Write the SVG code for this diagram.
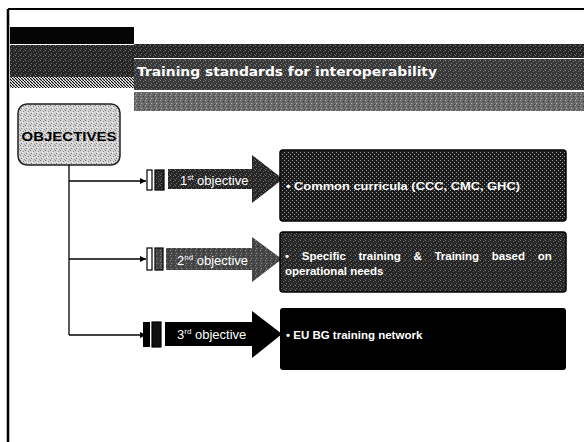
<svg xmlns="http://www.w3.org/2000/svg" width="584" height="442" viewBox="0 0 584 442">
<style>
.title{font-family:"DejaVu Sans",Verdana,sans-serif;font-weight:bold;font-size:13px;fill:#fff}
.obj{font-family:"Liberation Sans",Arial,sans-serif;font-weight:bold;font-size:13px;fill:#000}
.arr{font-family:"Liberation Sans",Arial,sans-serif;font-size:13px;fill:#fff}
.box{font-family:"Liberation Sans",Arial,sans-serif;font-weight:bold;font-size:11.5px;fill:#fff}
.conn{stroke:#000;stroke-width:1.3;fill:none}
.edge{stroke:#000;stroke-width:1.2}
</style>
<defs>
<pattern id="pChk" width="4" height="4" patternUnits="userSpaceOnUse"><rect width="4" height="4" fill="#1c1c1c"/><rect x="0" y="0" width="1" height="1" fill="#999"/><rect x="2" y="2" width="1" height="1" fill="#999"/></pattern>
<pattern id="pDark" width="5" height="5" patternUnits="userSpaceOnUse"><rect width="5" height="5" fill="#262626"/><rect x="0" y="0" width="1" height="1" fill="#777"/><rect x="3" y="1" width="1" height="1" fill="#666"/><rect x="1" y="3" width="1" height="1" fill="#707070"/><rect x="4" y="4" width="1" height="1" fill="#5a5a5a"/></pattern>
<pattern id="pTitle" width="5" height="5" patternUnits="userSpaceOnUse"><rect width="5" height="5" fill="#383838"/><rect x="0" y="0" width="1" height="1" fill="#888"/><rect x="3" y="1" width="1" height="1" fill="#777"/><rect x="1" y="3" width="1" height="1" fill="#808080"/><rect x="4" y="4" width="1" height="1" fill="#6a6a6a"/></pattern>
<pattern id="pGray" width="5" height="5" patternUnits="userSpaceOnUse"><rect width="5" height="5" fill="#6a6a6a"/><rect x="0" y="0" width="1" height="1" fill="#aaa"/><rect x="3" y="1" width="1" height="1" fill="#3a3a3a"/><rect x="1" y="3" width="1" height="1" fill="#b0b0b0"/><rect x="4" y="4" width="1" height="1" fill="#444"/></pattern>
<pattern id="pArrow2" width="5" height="5" patternUnits="userSpaceOnUse"><rect width="5" height="5" fill="#4a4a4a"/><rect x="0" y="0" width="1" height="1" fill="#888"/><rect x="3" y="1" width="1" height="1" fill="#2a2a2a"/><rect x="1" y="3" width="1" height="1" fill="#8a8a8a"/><rect x="4" y="4" width="1" height="1" fill="#303030"/></pattern>
<pattern id="pLight" width="5" height="5" patternUnits="userSpaceOnUse"><rect width="5" height="5" fill="#d4d4d4"/><rect x="0" y="0" width="1" height="1" fill="#777"/><rect x="3" y="1" width="1" height="1" fill="#888"/><rect x="1" y="3" width="1" height="1" fill="#7a7a7a"/><rect x="4" y="4" width="1" height="1" fill="#999"/><rect x="2" y="2" width="1" height="1" fill="#fff"/></pattern>
<pattern id="pHatch" width="3" height="3" patternUnits="userSpaceOnUse"><rect width="3" height="3" fill="#fff"/><path d="M0 0 L3 3" stroke="#000" stroke-width="1.2"/></pattern>
<marker id="ah" viewBox="0 0 10 10" refX="10" refY="5" markerWidth="6" markerHeight="6" orient="auto" markerUnits="userSpaceOnUse"><path d="M0 0 L10 5 L0 10 z" fill="#000"/></marker>
</defs>
<rect width="584" height="442" fill="#fff"/>
<g id="frame">
<line x1="8" y1="9" x2="584" y2="9" stroke="#000" stroke-width="2"/>
<line x1="8" y1="9" x2="8" y2="442" stroke="#000" stroke-width="2.5"/>
</g>
<g id="header">
<rect x="10" y="27" width="124" height="17" fill="#050505"/>
<rect x="10" y="45" width="124" height="32" fill="url(#pDark)"/>
<rect x="10" y="77" width="124" height="11" fill="url(#pHatch)"/>
<rect x="134" y="44" width="450" height="14" fill="url(#pDark)"/>
<rect x="134" y="59" width="450" height="31" fill="url(#pTitle)"/>
<rect x="134" y="92" width="450" height="19" fill="url(#pGray)"/>
<text class="title" x="137" y="76" textLength="300" lengthAdjust="spacingAndGlyphs">Training standards for interoperability</text>
</g>
<g id="objectives">
<rect x="18" y="104" width="102" height="61" rx="9" fill="url(#pLight)" stroke="#222" stroke-width="1.5"/>
<text class="obj" x="69" y="141" text-anchor="middle" textLength="95" lengthAdjust="spacingAndGlyphs">OBJECTIVES</text>
</g>
<g id="connectors">
<line class="conn" x1="69" y1="165" x2="69" y2="335"/>
<line class="conn" x1="69" y1="181" x2="146" y2="181" marker-end="url(#ah)"/>
<line class="conn" x1="69" y1="259" x2="146" y2="259" marker-end="url(#ah)"/>
<line class="conn" x1="69" y1="335" x2="146" y2="335" marker-end="url(#ah)"/>
</g>
<g id="arrow1">
<rect x="147" y="170" width="5" height="20" fill="#fff" class="edge"/>
<rect x="155" y="170" width="9" height="20" fill="url(#pDark)" class="edge"/>
<path d="M168 169 H252 V155 L283 179 L252 203 V189 H168 Z" fill="url(#pDark)"/>
<text class="arr" x="180" y="185">1<tspan font-size="8" dy="-5">st</tspan><tspan dy="5"> objective</tspan></text>
</g>
<g id="box1">
<rect x="280" y="150" width="286" height="71" rx="3" fill="url(#pChk)" stroke="#000" stroke-width="1.5"/>
<text class="box" x="286" y="190" textLength="234" lengthAdjust="spacingAndGlyphs">• Common curricula (CCC, CMC, GHC)</text>
</g>
<g id="arrow2">
<rect x="147" y="248" width="5" height="22" fill="#fff" class="edge"/>
<rect x="155" y="248" width="8" height="22" fill="url(#pArrow2)" class="edge"/>
<path d="M166 248 H252 V237 L282 259 L252 282 V270 H166 Z" fill="url(#pArrow2)"/>
<text class="arr" x="177" y="265">2<tspan font-size="8" dy="-5">nd</tspan><tspan dy="5"> objective</tspan></text>
</g>
<g id="box2">
<rect x="280" y="232" width="286" height="60" rx="3" fill="url(#pDark)" stroke="#000" stroke-width="1.5"/>
<text class="box" x="285" y="260" word-spacing="9.5">• Specific training &amp; Training based on</text>
<text class="box" x="285" y="275">operational needs</text>
</g>
<g id="arrow3">
<rect x="143" y="322" width="7" height="25" fill="#000"/>
<rect x="152" y="322" width="9" height="25" fill="#111" class="edge"/>
<path d="M165 322 H252 V311 L282 334 L252 358 V346 H165 Z" fill="#000"/>
<text class="arr" x="177" y="339">3<tspan font-size="8" dy="-5">rd</tspan><tspan dy="5"> objective</tspan></text>
</g>
<g id="box3">
<rect x="280" y="308" width="286" height="62" rx="3" fill="#000"/>
<text class="box" x="286" y="339">• EU BG training network</text>
</g>
</svg>
